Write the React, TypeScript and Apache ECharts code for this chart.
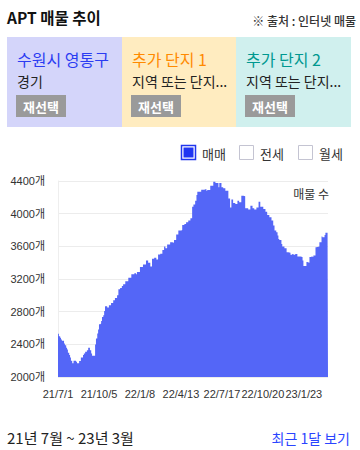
import React, { useEffect, useRef } from "react";
import * as echarts from "echarts";

// ---- data ----
const START_DATE = "2021-07-01";
const END_DATE = "2023-03-20";
const SKIPPED_DATES = ["2021-09-21"];
const LABEL_EVERY = 95;
const yTicks = { min: 2000, max: 4400, interval: 400 };
const legendItems = ["매매", "전세", "월세"];
const selectedLegend = "매매";

// [day index from start, listing count] — count holds until next entry
const listingSteps: [number, number][] = [
  [0, 2530], [2, 2500], [5, 2480], [7, 2460], [9, 2445], [14, 2410], [16, 2390], [19, 2357],
  [21, 2338], [23, 2296], [26, 2268], [28, 2240], [30, 2199], [33, 2167], [36, 2199], [42, 2187],
  [44, 2167], [49, 2195], [53, 2240], [58, 2268], [60, 2289], [63, 2309], [67, 2329], [70, 2357],
  [74, 2329], [77, 2289], [79, 2260], [86, 2399], [88, 2472], [91, 2533], [93, 2582], [95, 2647],
  [98, 2655], [100, 2687], [102, 2736], [105, 2756], [107, 2809], [109, 2866], [114, 2850], [118, 2878],
  [123, 2906], [128, 2939], [132, 2967], [137, 3000], [140, 3074], [144, 3090], [148, 3114], [151, 3135],
  [156, 3171], [163, 3216], [170, 3257], [177, 3270], [181, 3257], [183, 3285], [190, 3346], [197, 3379],
  [204, 3427], [209, 3399], [214, 3354], [218, 3447], [223, 3460], [228, 3440], [232, 3500], [237, 3509],
  [242, 3556], [246, 3598], [249, 3578], [253, 3623], [260, 3651], [265, 3645], [269, 3679], [274, 3745],
  [279, 3793], [286, 3800], [288, 3862], [293, 3874], [297, 3895], [302, 3915], [307, 3943], [311, 4086],
  [314, 4111], [318, 4159], [321, 4228], [323, 4269], [332, 4294], [339, 4302], [344, 4281], [346, 4290],
  [353, 4342], [360, 4391], [365, 4375], [372, 4322], [374, 4375], [379, 4322], [383, 4310], [388, 4281],
  [395, 4187], [399, 4077], [402, 4172], [406, 4131], [411, 4119], [416, 4159], [420, 4139], [425, 4220],
  [430, 4212], [434, 4065], [441, 4050], [446, 4098], [451, 4065], [455, 4050], [460, 4077], [465, 4147],
  [469, 4086], [476, 4057], [481, 4025], [485, 3985], [490, 3956], [495, 3915], [499, 3854], [502, 3793],
  [506, 3773], [509, 3732], [511, 3691], [513, 3679], [518, 3630], [520, 3598], [525, 3578], [530, 3529],
  [534, 3521], [539, 3496], [543, 3505], [546, 3496], [550, 3505], [555, 3476], [562, 3468], [567, 3427],
  [569, 3358], [576, 3407], [578, 3399], [583, 3468], [588, 3480], [590, 3470], [592, 3488], [597, 3590],
  [599, 3598], [606, 3651], [611, 3720], [613, 3711], [618, 3740], [620, 3765], [625, 3700], [626, 3700],
];

const cards = [
  { title: "수원시 영통구", sub: "경기", bg: "#d4d5fa", color: "#2b3cf2" },
  { title: "추가 단지 1", sub: "지역 또는 단지...", bg: "#ffecc0", color: "#ff8a00" },
  { title: "추가 단지 2", sub: "지역 또는 단지...", bg: "#d0f0ee", color: "#009890" },
];

// ---- helpers ----
function buildCategories(): string[] {
  const out: string[] = [];
  const [sy, sm, sd] = START_DATE.split("-").map(Number);
  const [ey, em, ed] = END_DATE.split("-").map(Number);
  const d = new Date(Date.UTC(sy, sm - 1, sd));
  const end = Date.UTC(ey, em - 1, ed);
  while (d.getTime() <= end) {
    const y = d.getUTCFullYear();
    const m = d.getUTCMonth() + 1;
    const day = d.getUTCDate();
    const iso = `${y}-${String(m).padStart(2, "0")}-${String(day).padStart(2, "0")}`;
    if (!SKIPPED_DATES.includes(iso)) out.push(`${y % 100}/${m}/${day}`);
    d.setUTCDate(d.getUTCDate() + 1);
  }
  return out;
}

const FONT = "'Noto Sans CJK KR', 'Noto Sans', sans-serif";
const TICK_FONT = "'Liberation Sans', 'Noto Sans CJK KR', sans-serif";

function txt(x: number, y: number, text: string, size: number, color: string, weight: string | number = "normal", align = "left") {
  return {
    type: "text",
    x,
    y,
    z: 10,
    style: {
      text,
      fill: color,
      font: `${weight} ${size}px ${FONT}`,
      textAlign: align,
      textVerticalAlign: "middle",
    },
  };
}

export default function App() {
  const ref = useRef<HTMLDivElement>(null);

  useEffect(() => {
    if (!ref.current) return;
    const chart = echarts.init(ref.current, undefined, { renderer: "svg" });
    const categories = buildCategories();

    const graphics: any[] = [];
    graphics.push(txt(7, 17, "APT 매물 추이", 15.5, "#111", "bold"));
    graphics.push(txt(356, 20, "※ 출처 : 인터넷 매물", 12, "#333", 500, "right"));

    const cardX = [7, 122, 236];
    const cardW = [115, 114, 115];
    cards.forEach((c, i) => {
      const x = cardX[i];
      graphics.push({ type: "rect", shape: { x, y: 37, width: cardW[i], height: 90 }, style: { fill: c.bg } });
      graphics.push(txt(x + 10, 58.5, c.title, 16, c.color, "normal"));
      graphics.push(txt(x + 10, 81, c.sub, 14, "#222"));
      graphics.push({ type: "rect", shape: { x: x + 9, y: 95, width: 50, height: 22 }, style: { fill: "#9a9a9a" } });
      graphics.push(txt(x + 34, 106, "재선택", 13, "#fff", "bold", "center"));
    });

    const legendX = [181, 239, 298];
    legendItems.forEach((name, i) => {
      const x = legendX[i];
      if (name === selectedLegend) {
        graphics.push({ type: "rect", shape: { x: x + 0.5, y: 145.5, width: 14, height: 14 }, style: { fill: "#fff", stroke: "#2036ee", lineWidth: 1.5 } });
        graphics.push({ type: "rect", shape: { x: x + 2.5, y: 147.5, width: 10, height: 10 }, style: { fill: "#2036f2" } });
      } else {
        graphics.push({ type: "rect", shape: { x: x + 0.5, y: 145.5, width: 14, height: 14 }, style: { fill: "#fff", stroke: "#c4c4d2", lineWidth: 1 } });
      }
      graphics.push(txt(x + 21, 153, name, 13, "#333"));
    });

    graphics.push(txt(329, 193, "매물 수", 12, "#333", "normal", "right"));
    graphics.push(txt(7, 437.5, "21년 7월 ~ 23년 3월", 15, "#222"));
    graphics.push(txt(350, 437.5, "최근 1달 보기", 14, "#2a44ff", "normal", "right"));

    chart.setOption({
      animation: false,
      grid: { left: 58, right: 32, top: 181, bottom: 73 },
      xAxis: {
        type: "category",
        data: categories,
        boundaryGap: false,
        axisLine: { show: false },
        axisTick: { show: false },
        axisLabel: {
          interval: LABEL_EVERY - 1,
          hideOverlap: false,
          fontSize: 11,
          color: "#333",
          margin: 11,
          fontFamily: TICK_FONT,
        },
        splitLine: { show: false },
      },
      yAxis: {
        type: "value",
        min: yTicks.min,
        max: yTicks.max,
        interval: yTicks.interval,
        axisLine: { show: true, lineStyle: { color: "#eeeeee" } },
        axisTick: { show: false },
        axisLabel: {
          formatter: (v: number) => `${v}개`,
          fontSize: 11,
          color: "#333",
          margin: 13,
          fontFamily: TICK_FONT,
        },
        splitLine: { lineStyle: { color: "#ececec" } },
      },
      series: [
        {
          name: "매물 수",
          type: "line",
          step: "end",
          symbol: "none",
          data: listingSteps.map(([d, v]) => [d, v]),
          lineStyle: { width: 0 },
          areaStyle: { color: "#5466f7", opacity: 1, origin: "start" },
        },
      ],
      graphic: graphics,
    });

    return () => chart.dispose();
  }, []);

  return <div ref={ref} style={{ position: "absolute", left: 0, top: 0, width: 360, height: 450 }} />;
}
